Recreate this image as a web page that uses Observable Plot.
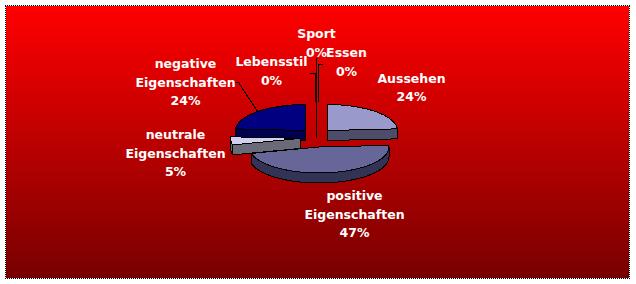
<!DOCTYPE html>
<html>
<head>
<meta charset="utf-8">
<script src="https://cdn.jsdelivr.net/npm/d3@7"></script>
<script src="https://cdn.jsdelivr.net/npm/@observablehq/plot@0.6"></script>
<style>
  html, body { margin: 0; padding: 0; background: #ffffff; }
  #wrap { position: relative; width: 636px; height: 284px; overflow: hidden; }
  #bg { position: absolute; left: 5px; top: 5px; width: 623px; height: 272px;
        border: 1px dotted #000; background: linear-gradient(#ff0000, #780000); background-clip: padding-box; }
  #chart { position: absolute; left: 0; top: 0; }
  #chart svg { shape-rendering: crispEdges; }
</style>
</head>
<body>
<div id="wrap"><div id="bg"></div><div id="chart"></div></div>
<script>
// ---- data ----
const categories = ["Aussehen", "positive\nEigenschaften", "neutrale\nEigenschaften", "negative\nEigenschaften", "Lebensstil", "Sport", "Essen"];
const values = [24, 47, 5, 24, 0, 0, 0];

// ---- styles ----
const topColors  = ["#9999cc", "#666699", "#d0d0ec", "#000080", "#ff0000", "#ff0000", "#ff0000"];
const sideColors = ["#4d4d6a", "#333355", "#6a6a78", "#000050", "#c00000", "#c00000", "#c00000"];

// ---- layout ----
const center = {x: 316, y: 137};
const rx = 70, ry = 26, depth = 10, explode = 16, tilt = 0.6;
const labelPos = [[411, 85.5], [354, 212], [175, 151], [185, 80], [271, 69], [316, 41], [346, 60]];
const leaderStarts = {3: [[235, 82], [238, 82]], 4: [[310, 73], [315, 73]], 5: [[316, 58]], 6: [[322, 64], [318, 64]]};

const rad = d => d * Math.PI / 180;
const total = d3.sum(values);
let cum = 0;
const slices = values.map((v, i) => {
  const a0 = cum / total * 360; cum += v;
  const a1 = cum / total * 360;
  const mid = (a0 + a1) / 2;
  const c = {x: center.x + explode * Math.sin(rad(mid)), y: center.y - explode * tilt * Math.cos(rad(mid))};
  return {i, v, a0, a1, mid, c};
});
const pt = (c, a, dy = 0) => ({x: c.x + rx * Math.sin(rad(a)), y: c.y - ry * Math.cos(rad(a)) + dy});
const arc = (c, a0, a1, dy = 0) => {
  const pts = [];
  const n = Math.max(1, Math.ceil(Math.abs(a1 - a0)));
  for (let j = 0; j <= n; j++) pts.push(pt(c, a0 + (a1 - a0) * j / n, dy));
  return pts;
};

const marks = [];
const order = [...slices].sort((a, b) => a.c.y - b.c.y);
for (const s of order) {
  const {c, a0, a1, i} = s;
  const cd = {x: c.x, y: c.y + depth};
  const walls = [a0, a1].map(a => {
    const p = pt(c, a), pd = pt(c, a, depth);
    return [c, p, pd, cd, c];
  }).sort((w1, w2) => (w1[1].y + w1[0].y) - (w2[1].y + w2[0].y));
  for (const w of walls) marks.push(Plot.line(w, {x: "x", y: "y", fill: sideColors[i], stroke: "black", strokeWidth: 1}));
  const b0 = Math.max(a0, 90), b1 = Math.min(a1, 270);
  if (b1 > b0) {
    const band = [...arc(c, b0, b1), ...arc(c, b1, b0, depth)];
    band.push(band[0]);
    marks.push(Plot.line(band, {x: "x", y: "y", fill: sideColors[i], stroke: "black", strokeWidth: 1}));
  }
  const top = [c, ...arc(c, a0, a1), c];
  marks.push(Plot.line(top, {x: "x", y: "y", fill: topColors[i], stroke: "black", strokeWidth: 1}));
}

for (const [k, starts] of Object.entries(leaderStarts)) {
  const s = slices[+k];
  const end = pt(s.c, s.mid);
  const pts = [...starts.map(([x, y]) => ({x, y})), {x: starts[starts.length - 1][0], y: end.y}];
  if (s.v > 0) pts[pts.length - 1] = end;
  marks.push(Plot.line(pts, {x: "x", y: "y", stroke: "black", strokeWidth: 1}));
}

const labelData = categories.map((name, i) => ({
  x: labelPos[i][0], y: labelPos[i][1], text: `${name}\n${values[i]}%`
}));
marks.push(Plot.text(labelData, {
  x: "x", y: "y", text: "text", fill: "white", fontWeight: "bold", fontSize: 12.5,
  fontFamily: "DejaVu Sans", lineHeight: 1.5, textAnchor: "middle"
}));

const chart = Plot.plot({
  width: 636, height: 284,
  marginTop: 0, marginRight: 0, marginBottom: 0, marginLeft: 0,
  x: {domain: [0, 636], range: [0, 636], axis: null},
  y: {domain: [0, 284], range: [0, 284], axis: null},
  style: {background: "transparent", overflow: "visible"},
  marks
});
document.getElementById("chart").appendChild(chart);
</script>
</body>
</html>
